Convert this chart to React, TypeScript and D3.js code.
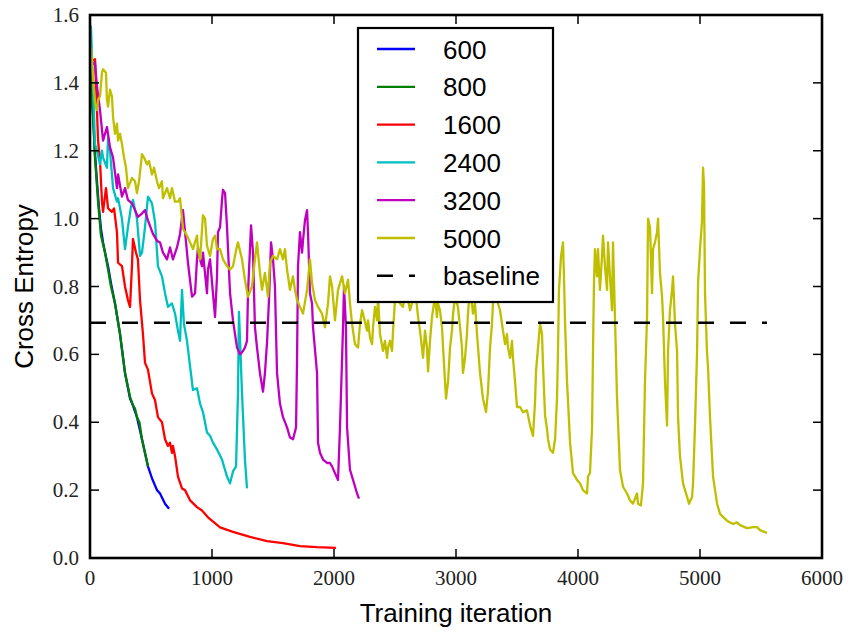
import React from "react";
import * as d3 from "d3";

const W = 849;
const H = 632;
const margin = { top: 15, right: 27, bottom: 74, left: 90 };

const xTicks = [0, 1000, 2000, 3000, 4000, 5000, 6000];
const yTicks = [0, 0.2, 0.4, 0.6, 0.8, 1.0, 1.2, 1.4, 1.6];
const baselineValue = 0.693;

// [iteration, cross entropy]
const run600: [number, number][] = [
  [0, 1.46], [8, 1.4], [25, 1.31], [41, 1.19], [57, 1.11], [74, 1.03], [90, 0.97], [107, 0.93],
  [123, 0.9], [148, 0.86], [172, 0.81], [205, 0.75], [246, 0.66], [287, 0.545], [328, 0.47],
  [352, 0.45], [385, 0.415], [426, 0.35], [475, 0.27], [508, 0.235], [549, 0.2], [574, 0.19],
  [615, 0.16], [648, 0.145],
];

const run800: [number, number][] = [
  [0, 1.46], [8, 1.39], [25, 1.3], [39, 1.19], [66, 1.05], [90, 0.95], [123, 0.9], [148, 0.85],
  [172, 0.8], [205, 0.75], [246, 0.66], [287, 0.545], [328, 0.475], [352, 0.45], [369, 0.44],
  [385, 0.415], [405, 0.4], [426, 0.35], [475, 0.27],
];

const run1600: [number, number][] = [
  [0, 1.46], [41, 1.47], [57, 1.32], [66, 1.23], [82, 1.17], [98, 1.05], [107, 1.02], [131, 1.09],
  [148, 1.03], [180, 1.02], [197, 1.03], [221, 0.96], [230, 0.87], [262, 0.86], [287, 0.8],
  [311, 0.76], [328, 0.74], [344, 0.86], [352, 0.94], [377, 0.9], [393, 0.88], [410, 0.76],
  [434, 0.66], [451, 0.575], [475, 0.555], [508, 0.485], [533, 0.465], [557, 0.415], [590, 0.4],
  [615, 0.35], [639, 0.33], [656, 0.34], [672, 0.31], [680, 0.33], [697, 0.3], [721, 0.24],
  [754, 0.205], [779, 0.2], [820, 0.17], [877, 0.15], [918, 0.14], [967, 0.12], [1066, 0.09],
  [1172, 0.077], [1311, 0.062], [1451, 0.05], [1582, 0.044], [1721, 0.035], [1861, 0.032],
  [2016, 0.03],
];

const run2400: [number, number][] = [
  [0, 1.57], [8, 1.565], [25, 1.39], [41, 1.22], [57, 1.2], [82, 1.16], [98, 1.2], [107, 1.18],
  [139, 1.15], [148, 1.24], [164, 1.2], [189, 1.09], [221, 1.05], [230, 1.06], [262, 1.0],
  [287, 0.91], [311, 0.975], [336, 1.035], [352, 1.055], [385, 1.0], [410, 0.89], [426, 0.9],
  [451, 0.975], [475, 1.065], [508, 1.045], [533, 0.99], [557, 0.86], [590, 0.83], [615, 0.78],
  [639, 0.74], [672, 0.75], [697, 0.72], [721, 0.67], [738, 0.64], [754, 0.79], [770, 0.69],
  [795, 0.64], [820, 0.565], [844, 0.495], [877, 0.5], [902, 0.455], [926, 0.43], [959, 0.37],
  [984, 0.36], [1008, 0.34], [1041, 0.32], [1082, 0.29], [1123, 0.24], [1148, 0.22], [1172, 0.255],
  [1197, 0.27], [1213, 0.485], [1221, 0.725], [1230, 0.64], [1246, 0.485], [1270, 0.29],
  [1287, 0.205],
];

const run3200: [number, number][] = [
  [0, 1.45], [41, 1.46], [57, 1.39], [82, 1.32], [107, 1.23], [139, 1.27], [164, 1.21], [189, 1.18],
  [221, 1.09], [230, 1.13], [262, 1.065], [287, 1.09], [311, 1.055], [344, 1.045], [369, 1.025],
  [393, 1.005], [426, 1.015], [451, 1.025], [475, 0.995], [516, 0.955], [549, 0.935], [574, 0.93],
  [598, 0.9], [631, 0.88], [656, 0.915], [680, 0.88], [713, 0.915], [738, 0.955], [762, 1.025],
  [803, 0.87], [836, 0.77], [861, 0.78], [877, 0.88], [885, 0.915], [902, 0.88], [918, 0.86],
  [926, 0.9], [959, 0.78], [967, 0.85], [984, 0.88], [1008, 0.78], [1025, 0.71], [1041, 0.83],
  [1049, 0.96], [1066, 0.975], [1082, 1.055], [1090, 1.085], [1107, 1.075], [1123, 0.975],
  [1148, 0.78], [1172, 0.7], [1205, 0.62], [1230, 0.6], [1254, 0.61], [1270, 0.62], [1287, 0.64],
  [1295, 0.78], [1320, 0.98], [1336, 0.9], [1352, 0.68], [1369, 0.62], [1393, 0.545], [1418, 0.49],
  [1434, 0.545], [1451, 0.635], [1467, 0.76], [1484, 0.93], [1500, 0.88], [1516, 0.8], [1533, 0.545],
  [1557, 0.455], [1582, 0.415], [1615, 0.385], [1639, 0.355], [1664, 0.35], [1689, 0.385],
  [1697, 0.585], [1705, 0.86], [1721, 0.96], [1738, 0.9], [1746, 0.935], [1762, 0.995], [1779, 1.025],
  [1787, 0.96], [1803, 0.78], [1820, 0.75], [1828, 0.68], [1861, 0.545], [1869, 0.34], [1885, 0.31],
  [1910, 0.29], [1943, 0.28], [1967, 0.28], [1984, 0.27], [2008, 0.25], [2033, 0.23], [2049, 0.385],
  [2074, 0.68], [2082, 0.8], [2098, 0.68], [2107, 0.385], [2131, 0.26], [2156, 0.23], [2189, 0.19],
  [2205, 0.175],
];

const run5000: [number, number][] = [
  [0, 1.48], [8, 1.5], [25, 1.42], [41, 1.34], [57, 1.32], [66, 1.35], [82, 1.36], [98, 1.43],
  [107, 1.44], [131, 1.43], [139, 1.35], [148, 1.33], [164, 1.38], [180, 1.36], [189, 1.3],
  [205, 1.25], [221, 1.28], [230, 1.23], [246, 1.25], [262, 1.22], [279, 1.18], [295, 1.15],
  [311, 1.09], [344, 1.12], [369, 1.11], [385, 1.075], [402, 1.11], [426, 1.19], [443, 1.18],
  [467, 1.16], [484, 1.17], [508, 1.13], [525, 1.15], [549, 1.11], [566, 1.09], [590, 1.11],
  [598, 1.06], [631, 1.09], [656, 1.06], [672, 1.09], [697, 1.05], [721, 1.05], [738, 1.06],
  [762, 0.97], [795, 0.95], [820, 0.93], [844, 0.91], [877, 0.95], [885, 0.91], [902, 0.88],
  [926, 1.01], [943, 1.0], [959, 0.92], [984, 0.89], [1008, 0.94], [1025, 0.95], [1041, 0.91],
  [1066, 0.91], [1090, 0.88], [1123, 0.86], [1148, 0.85], [1172, 0.86], [1205, 0.92], [1213, 0.93],
  [1246, 0.88], [1270, 0.82], [1295, 0.77], [1328, 0.8], [1352, 0.88], [1369, 0.93], [1393, 0.84],
  [1410, 0.79], [1434, 0.84], [1459, 0.77], [1475, 0.87], [1500, 0.89], [1533, 0.88], [1557, 0.91],
  [1582, 0.88], [1598, 0.91], [1615, 0.85], [1639, 0.79], [1664, 0.83], [1680, 0.79], [1697, 0.76],
  [1721, 0.74], [1746, 0.72], [1779, 0.79], [1803, 0.88], [1820, 0.81], [1844, 0.76], [1869, 0.74],
  [1902, 0.72], [1926, 0.68], [1951, 0.75], [1967, 0.83], [1984, 0.8], [2008, 0.7], [2033, 0.79],
  [2066, 0.83], [2090, 0.78], [2115, 0.82], [2131, 0.75], [2148, 0.69], [2172, 0.63], [2197, 0.62],
  [2213, 0.69], [2230, 0.73], [2238, 0.72], [2271, 0.67], [2279, 0.7], [2295, 0.65], [2312, 0.63],
  [2320, 0.68], [2336, 0.74], [2353, 0.7], [2361, 0.77], [2377, 0.66], [2402, 0.61], [2418, 0.64],
  [2435, 0.59], [2443, 0.62], [2459, 0.64], [2476, 0.61], [2484, 0.67], [2500, 0.76], [2516, 0.79],
  [2541, 0.75], [2566, 0.74], [2590, 0.8], [2623, 0.73], [2639, 0.75], [2664, 0.8], [2689, 0.71],
  [2705, 0.67], [2721, 0.62], [2730, 0.59], [2746, 0.67], [2762, 0.62], [2771, 0.55], [2787, 0.64],
  [2803, 0.71], [2828, 0.77], [2844, 0.71], [2853, 0.75], [2869, 0.73], [2885, 0.68], [2894, 0.62],
  [2910, 0.52], [2918, 0.47], [2935, 0.52], [2951, 0.62], [2967, 0.67], [2976, 0.72], [2992, 0.77],
  [3016, 0.74], [3033, 0.68], [3049, 0.62], [3057, 0.545], [3074, 0.59], [3090, 0.66], [3098, 0.72],
  [3115, 0.79], [3131, 0.75], [3139, 0.72], [3156, 0.75], [3172, 0.66], [3197, 0.545], [3221, 0.47],
  [3246, 0.43], [3262, 0.49], [3279, 0.62], [3295, 0.69], [3303, 0.75], [3320, 0.79], [3336, 0.76],
  [3361, 0.73], [3385, 0.67], [3402, 0.63], [3418, 0.66], [3426, 0.62], [3443, 0.59], [3459, 0.64],
  [3467, 0.59], [3484, 0.52], [3500, 0.445], [3525, 0.445], [3549, 0.43], [3582, 0.435], [3607, 0.39],
  [3631, 0.36], [3648, 0.46], [3656, 0.55], [3672, 0.62], [3689, 0.69], [3705, 0.66], [3713, 0.57],
  [3730, 0.42], [3746, 0.38], [3754, 0.35], [3771, 0.32], [3795, 0.31], [3812, 0.35], [3828, 0.47],
  [3836, 0.61], [3844, 0.79], [3861, 0.89], [3877, 0.93], [3885, 0.83], [3894, 0.69], [3910, 0.52],
  [3935, 0.34], [3959, 0.25], [3992, 0.23], [4016, 0.22], [4041, 0.2], [4074, 0.19], [4082, 0.24],
  [4098, 0.25], [4115, 0.38], [4123, 0.61], [4131, 0.81], [4139, 0.91], [4156, 0.83], [4164, 0.91],
  [4180, 0.79], [4197, 0.89], [4205, 0.95], [4221, 0.86], [4238, 0.79], [4246, 0.93], [4262, 0.83],
  [4279, 0.73], [4287, 0.93], [4303, 0.71], [4320, 0.47], [4344, 0.26], [4369, 0.21], [4402, 0.19],
  [4426, 0.17], [4451, 0.16], [4484, 0.19], [4492, 0.16], [4516, 0.155], [4533, 0.22], [4549, 0.52],
  [4566, 0.71], [4574, 1.0], [4590, 0.975], [4607, 0.78], [4615, 0.91], [4631, 0.93], [4648, 0.96],
  [4656, 1.0], [4672, 0.84], [4689, 0.77], [4697, 0.71], [4713, 0.52], [4730, 0.39], [4738, 0.61],
  [4754, 0.73], [4771, 0.79], [4779, 0.83], [4795, 0.69], [4812, 0.61], [4820, 0.415], [4836, 0.3],
  [4861, 0.22], [4894, 0.18], [4910, 0.16], [4935, 0.18], [4943, 0.22], [4959, 0.39], [4976, 0.61],
  [4984, 0.81], [5000, 0.91], [5016, 0.99], [5025, 1.15], [5033, 1.1], [5041, 0.78], [5057, 0.61],
  [5066, 0.56], [5082, 0.415], [5107, 0.24], [5140, 0.16], [5164, 0.13], [5221, 0.11], [5271, 0.1],
  [5303, 0.105], [5328, 0.097], [5385, 0.088], [5435, 0.091], [5467, 0.091], [5492, 0.082],
  [5549, 0.074],
];

const series = [
  { label: "600", color: "#0000ff", data: run600 },
  { label: "800", color: "#008000", data: run800 },
  { label: "1600", color: "#ff0000", data: run1600 },
  { label: "2400", color: "#00bfbf", data: run2400 },
  { label: "3200", color: "#bf00bf", data: run3200 },
  { label: "5000", color: "#bfbf00", data: run5000 },
];

const sans = "'Liberation Sans', Arial, Helvetica, sans-serif";
const serif = "'Liberation Serif', 'Times New Roman', serif";

export default function App() {
  const x = d3.scaleLinear().domain([0, 6000]).range([margin.left, W - margin.right]);
  const y = d3.scaleLinear().domain([0, 1.6]).range([H - margin.bottom, margin.top]);
  const line = d3
    .line<[number, number]>()
    .x((d) => x(d[0]))
    .y((d) => y(d[1]));

  const [x0, x1] = x.range();
  const [yb, yt] = y.range();
  const tick = 9;
  const lastIter = run5000[run5000.length - 1][0];

  // legend layout
  const lg = { x: 358, y: 28, w: 195, h: 274, row0: 49, step: 37.8 };
  const legendItems = [
    ...series.map((s) => ({ label: s.label, color: s.color, dash: undefined as string | undefined })),
    { label: "baseline", color: "#000", dash: "16,16" },
  ];

  return (
    <svg
      width={W}
      height={H}
      style={{ position: "absolute", left: 0, top: 0, background: "#fff" }}
    >
      <defs>
        <clipPath id="plot">
          <rect x={x0} y={yt} width={x1 - x0} height={yb - yt} />
        </clipPath>
      </defs>
      <rect width={W} height={H} fill="#fff" />

      <g clipPath="url(#plot)" fill="none">
        {series.map((s) => (
          <path
            key={s.label}
            d={line(s.data) ?? ""}
            stroke={s.color}
            strokeWidth={2.3}
            strokeLinejoin="round"
          />
        ))}
        <line
          x1={x(0)}
          x2={x(lastIter)}
          y1={y(baselineValue)}
          y2={y(baselineValue)}
          stroke="#000"
          strokeWidth={2.6}
          strokeDasharray="16,16"
        />
      </g>

      {/* ticks on all four sides, pointing inward */}
      <g stroke="#000" strokeWidth={1.5}>
        {xTicks.map((t) => (
          <g key={"xt" + t}>
            <line x1={x(t)} x2={x(t)} y1={yb} y2={yb - tick} />
            <line x1={x(t)} x2={x(t)} y1={yt} y2={yt + tick} />
          </g>
        ))}
        {yTicks.map((t) => (
          <g key={"yt" + t}>
            <line x1={x0} x2={x0 + tick} y1={y(t)} y2={y(t)} />
            <line x1={x1} x2={x1 - tick} y1={y(t)} y2={y(t)} />
          </g>
        ))}
      </g>

      <rect
        x={x0}
        y={yt}
        width={x1 - x0}
        height={yb - yt}
        fill="none"
        stroke="#000"
        strokeWidth={2.6}
      />

      <g fontFamily={serif} fontSize={21} fill="#222">
        {xTicks.map((t) => (
          <text key={"xl" + t} x={x(t)} y={585} textAnchor="middle">
            {t}
          </text>
        ))}
        {yTicks.map((t) => (
          <text key={"yl" + t} x={x0 - 11} y={y(t) + 7} textAnchor="end">
            {d3.format(".1f")(t)}
          </text>
        ))}
      </g>

      <text
        x={(x0 + x1) / 2}
        y={622}
        textAnchor="middle"
        fontFamily={sans}
        fontSize={26}
        fill="#000"
      >
        Training iteration
      </text>
      <text
        transform={`translate(33,${(yt + yb) / 2}) rotate(-90)`}
        textAnchor="middle"
        fontFamily={sans}
        fontSize={26}
        fill="#000"
      >
        Cross Entropy
      </text>

      <g>
        <rect x={lg.x} y={lg.y} width={lg.w} height={lg.h} fill="#fff" stroke="#000" strokeWidth={2.2} />
        {legendItems.map((it, i) => {
          const cy = lg.row0 + i * lg.step;
          return (
            <g key={it.label}>
              <line
                x1={377}
                x2={415}
                y1={cy}
                y2={cy}
                stroke={it.color}
                strokeWidth={it.dash ? 2.6 : 2.3}
                strokeDasharray={it.dash}
              />
              <text x={443} y={cy + 9.5} fontFamily={sans} fontSize={26} fill="#000">
                {it.label}
              </text>
            </g>
          );
        })}
      </g>
    </svg>
  );
}
